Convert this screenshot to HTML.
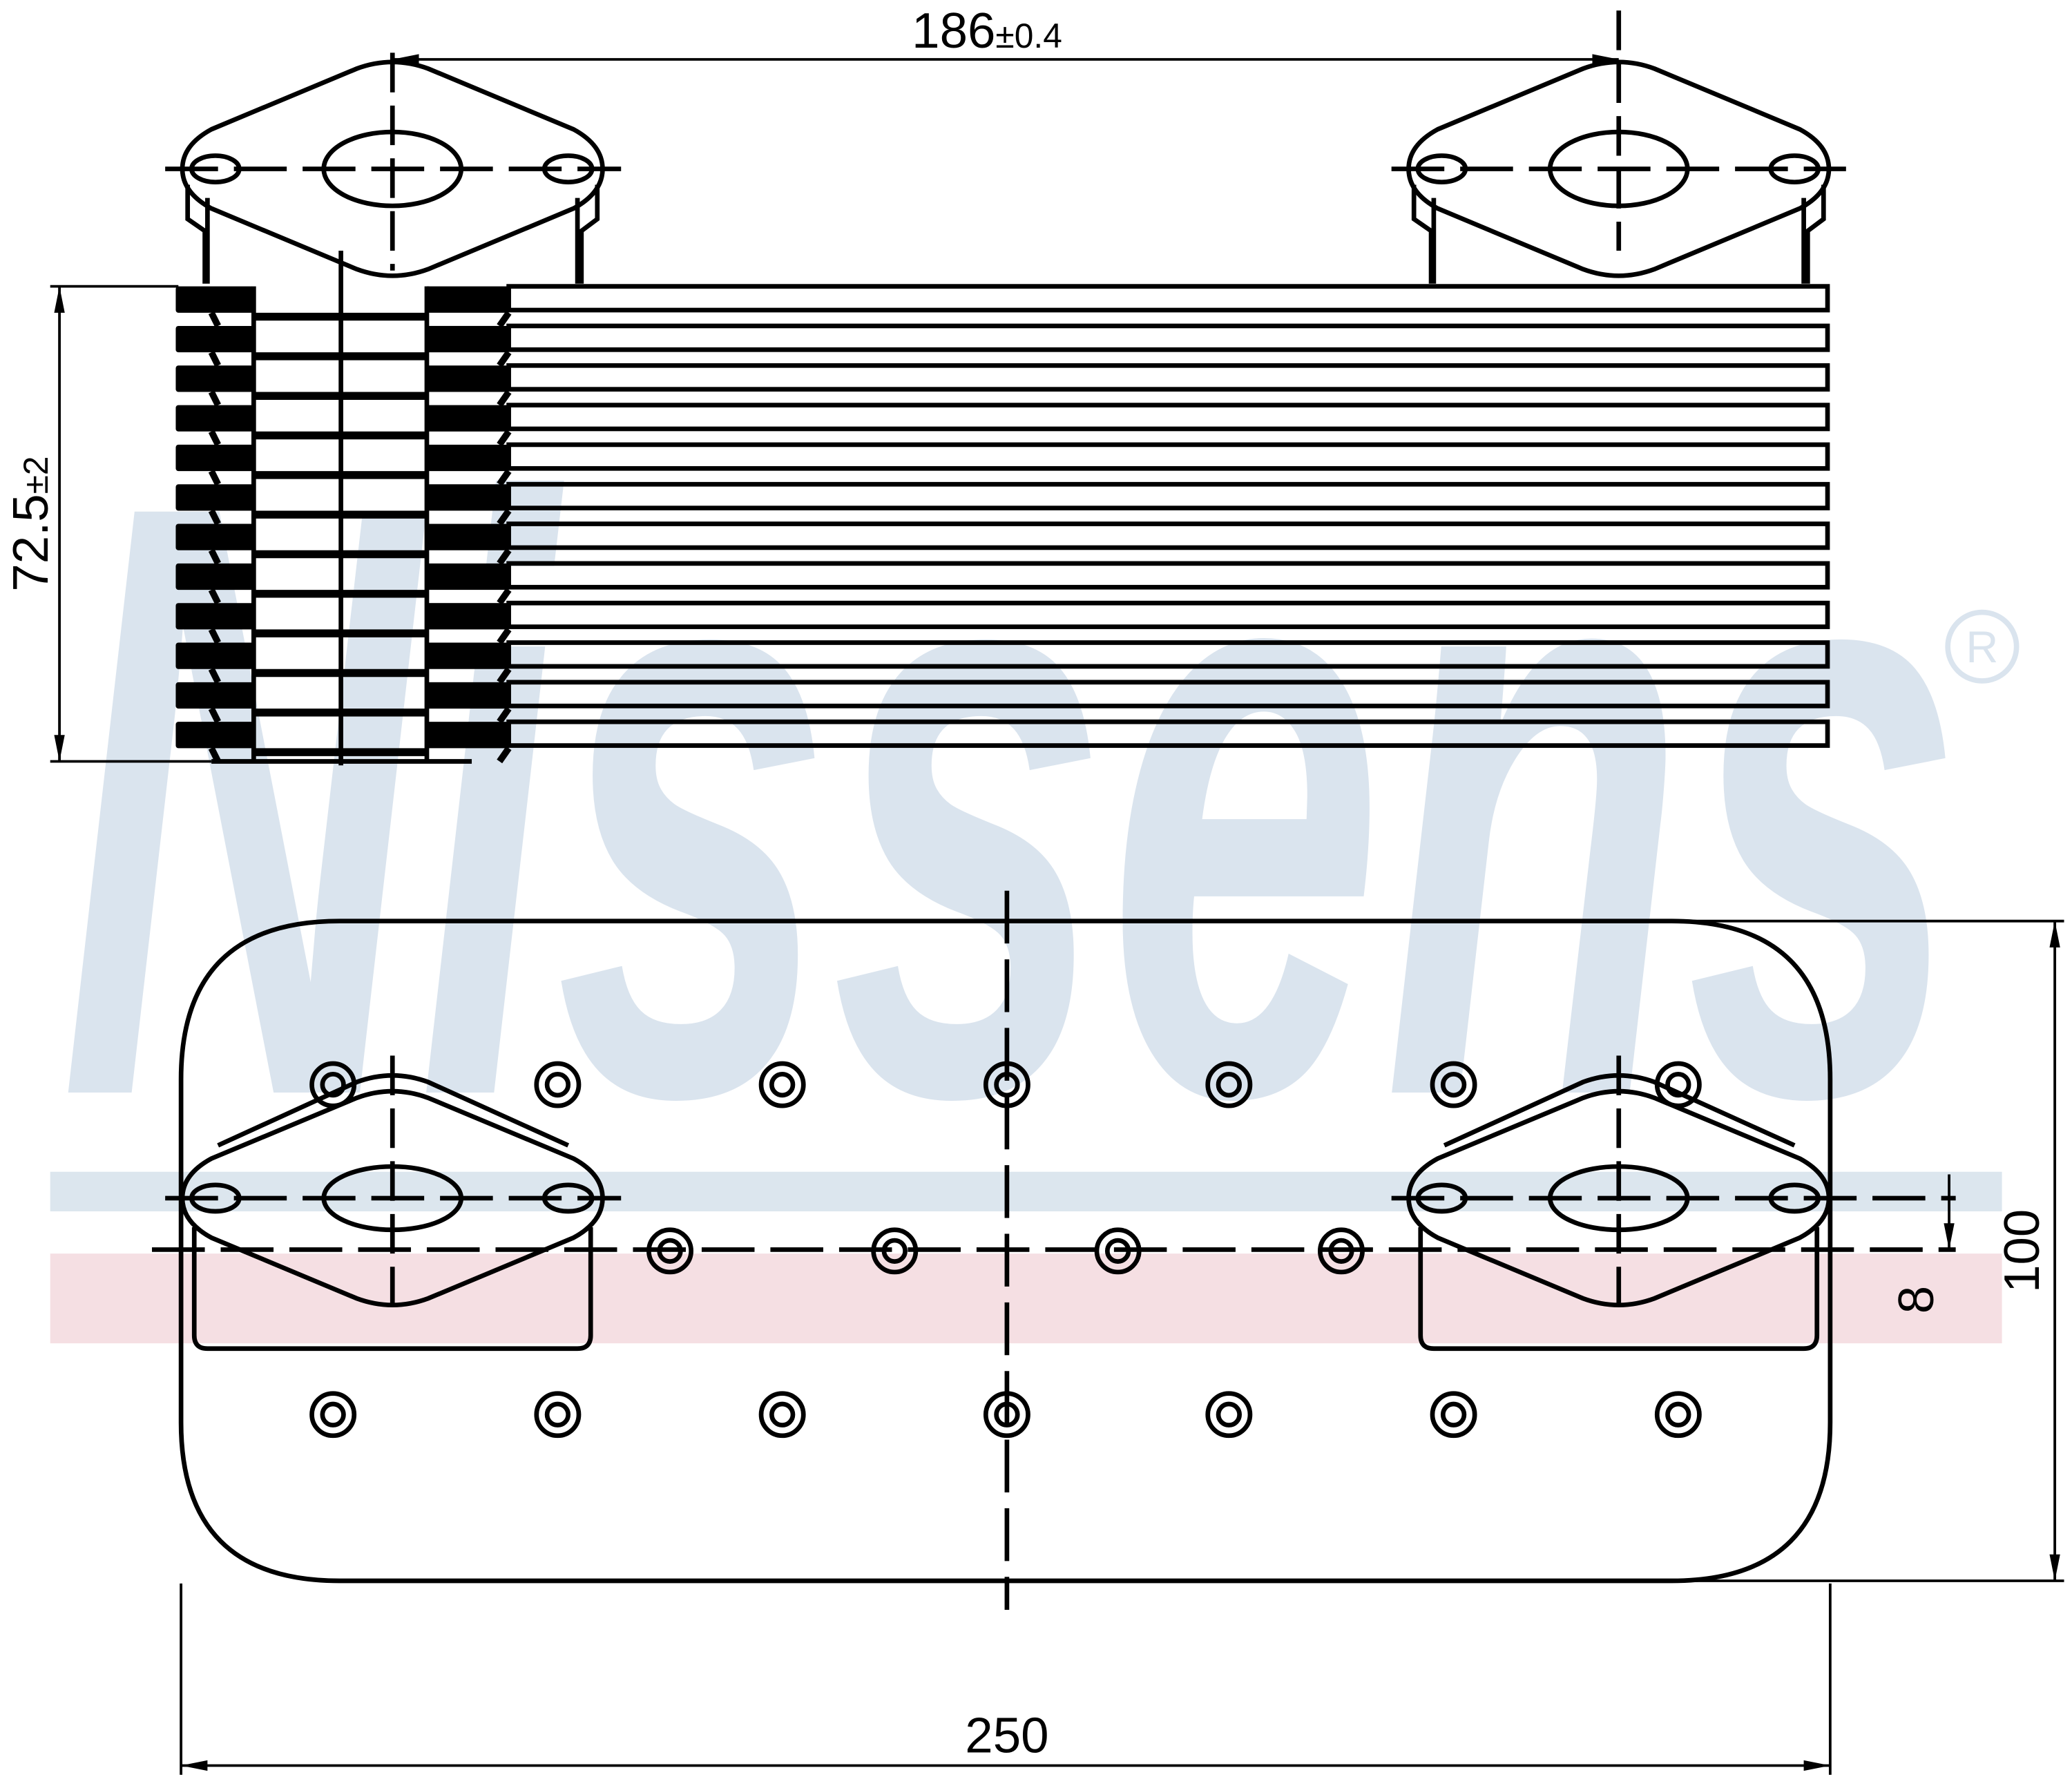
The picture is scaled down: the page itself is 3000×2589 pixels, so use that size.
<!DOCTYPE html>
<html><head><meta charset="utf-8"><style>html,body{margin:0;padding:0;background:#fff}svg{display:block}</style></head>
<body>
<svg width="3000" height="2589" viewBox="0 0 1568 1355" preserveAspectRatio="none" xmlns="http://www.w3.org/2000/svg">
<rect width="1568" height="1355" fill="#fff"/>
<!-- watermark -->
<text x="45" y="828" font-family="Liberation Sans, sans-serif" font-style="italic" font-weight="bold" font-size="640" fill="#dae4ee" textLength="1440" lengthAdjust="spacingAndGlyphs">Nissens</text>
<circle cx="1500" cy="490" r="26" fill="none" stroke="#dae4ee" stroke-width="4"/>
<text x="1500" y="502" text-anchor="middle" font-family="Liberation Sans, sans-serif" font-size="34" fill="#dae4ee">R</text>
<rect x="38" y="888" width="1477" height="30" fill="#dce6ee"/>
<rect x="38" y="950" width="1477" height="68" fill="#f5dfe3"/>

<g fill="none" stroke="#000" stroke-width="3.5">
<!-- top flanges -->
<g id="fl">
<path d="M160 98 L270 52 Q297 42 324 52 L434 98 Q456 110 456 128 Q456 146 434 158 L324 204 Q297 214 270 204 L160 158 Q138 146 138 128 Q138 110 160 98Z"/>
<ellipse cx="297" cy="128" rx="52" ry="28"/>
<ellipse cx="163" cy="128" rx="18" ry="10"/>
<ellipse cx="430" cy="128" rx="18" ry="10"/>
<path d="M142 140 V166 L155 175 V215 M157 150 V215 M452 140 V166 L440 175 V215 M437 150 V215"/>
</g>
<use href="#fl" x="928"/>
<!-- stack -->
<g id="pl">
<rect x="385" y="217" width="998" height="18"/>
<rect x="133" y="217" width="59" height="20" fill="#000" stroke="none" rx="2"/>
<rect x="323" y="217" width="62" height="20" fill="#000" stroke="none"/>
<line x1="192" y1="240" x2="323" y2="240" stroke-width="6"/>
<line x1="160" y1="237" x2="165" y2="247" stroke-width="5"/>
<line x1="385" y1="237" x2="378" y2="247" stroke-width="5"/>
</g>
<use href="#pl" y="30"/><use href="#pl" y="60"/><use href="#pl" y="90"/><use href="#pl" y="120"/><use href="#pl" y="150"/><use href="#pl" y="180"/><use href="#pl" y="210"/><use href="#pl" y="240"/><use href="#pl" y="270"/><use href="#pl" y="300"/><use href="#pl" y="330"/>
<line x1="192" y1="217" x2="192" y2="577"/>
<line x1="323" y1="217" x2="323" y2="577"/>
<line x1="160" y1="577" x2="357" y2="577"/>
<line x1="258" y1="190" x2="258" y2="580"/>
<!-- dims top -->
<line x1="297" y1="45" x2="1225" y2="45" stroke-width="2"/>
<line x1="297" y1="40" x2="297" y2="205" stroke-dasharray="30 10"/>
<line x1="1225" y1="8" x2="1225" y2="190" stroke-dasharray="30 10"/>
<line x1="125" y1="128" x2="470" y2="128" stroke-dasharray="40 12"/>
<line x1="1053" y1="128" x2="1397" y2="128" stroke-dasharray="40 12"/>
<line x1="38" y1="217" x2="135" y2="217" stroke-width="2"/>
<line x1="38" y1="577" x2="160" y2="577" stroke-width="2"/>
<line x1="45" y1="217" x2="45" y2="577" stroke-width="2"/>
<!-- bottom view -->
<path d="M257 698 H1265 Q1385 698 1385 818 V1078 Q1385 1198 1265 1198 H257 Q137 1198 137 1078 V818 Q137 698 257 698Z"/>
<g id="fb">
<path d="M160 878 L270 832 Q297 822 324 832 L434 878 Q456 890 456 908 Q456 926 434 938 L324 984 Q297 994 270 984 L160 938 Q138 926 138 908 Q138 890 160 878Z"/>
<path d="M165 868 L270 820 Q297 810 324 820 L430 868"/>
<ellipse cx="297" cy="908" rx="52" ry="24"/>
<ellipse cx="163" cy="908" rx="18" ry="10"/>
<ellipse cx="430" cy="908" rx="18" ry="10"/>
<path d="M147 930 V1012 Q147 1022 157 1022 H437 Q447 1022 447 1012 V930"/>
<line x1="297" y1="800" x2="297" y2="990" stroke-dasharray="30 10"/>
</g>
<use href="#fb" x="928"/>
<line x1="125" y1="908" x2="470" y2="908" stroke-dasharray="40 12"/>
<line x1="1053" y1="908" x2="1480" y2="908" stroke-dasharray="40 12"/>
<line x1="115" y1="947" x2="1480" y2="947" stroke-dasharray="40 12"/>
<line x1="762" y1="675" x2="762" y2="1220" stroke-dasharray="40 12"/>
<g id="h"><circle cx="252" cy="822" r="16"/><circle cx="252" cy="822" r="8"/></g>
<use href="#h" x="170"/><use href="#h" x="340"/><use href="#h" x="510"/><use href="#h" x="678"/><use href="#h" x="848"/><use href="#h" x="1018"/>
<use href="#h" y="250"/><use href="#h" x="170" y="250"/><use href="#h" x="340" y="250"/><use href="#h" x="510" y="250"/><use href="#h" x="678" y="250"/><use href="#h" x="848" y="250"/><use href="#h" x="1018" y="250"/>
<use href="#h" x="255" y="126"/><use href="#h" x="425" y="126"/><use href="#h" x="594" y="126"/><use href="#h" x="763" y="126"/>
<!-- dims bottom -->
<line x1="1280" y1="698" x2="1562" y2="698" stroke-width="2"/>
<line x1="1280" y1="1198" x2="1562" y2="1198" stroke-width="2"/>
<line x1="1555" y1="698" x2="1555" y2="1198" stroke-width="2"/>
<line x1="1475" y1="890" x2="1475" y2="947" stroke-width="2"/>
<line x1="137" y1="1200" x2="137" y2="1345" stroke-width="2"/>
<line x1="1385" y1="1200" x2="1385" y2="1345" stroke-width="2"/>
<line x1="137" y1="1338" x2="1385" y2="1338" stroke-width="2"/>
</g>
<g fill="#000">
<path d="M297 45 l20 -4 v8z M1225 45 l-20 -4 v8z M45 217 l-4 20 h8z M45 577 l-4 -20 h8z M1555 698 l-4 20 h8z M1555 1198 l-4 -20 h8z M1475 947 l-4 -20 h8z M137 1338 l20 -4 v8z M1385 1338 l-20 -4 v8z"/>
</g>
<g font-family="Liberation Sans, sans-serif" fill="#000">
<text x="690" y="36" font-size="38">186<tspan font-size="26">±0.4</tspan></text>
<text transform="translate(36 397) rotate(-90)" text-anchor="middle" font-size="38">72.5<tspan font-size="26">±2</tspan></text>
<text transform="translate(1543 948) rotate(-90)" text-anchor="middle" font-size="38">100</text>
<text transform="translate(1463 985) rotate(-90)" text-anchor="middle" font-size="38">8</text>
<text x="762" y="1328" text-anchor="middle" font-size="38">250</text>
</g>
</svg>
</body></html>
